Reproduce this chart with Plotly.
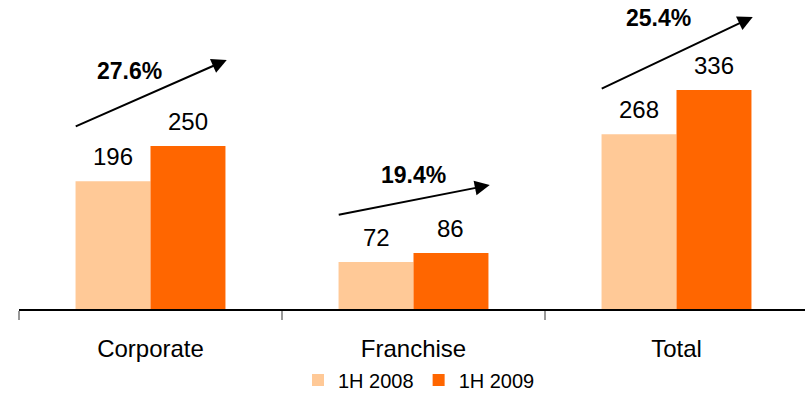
import plotly.graph_objects as go

# Revenue by segment, first half of the year
categories = ["Corporate", "Franchise", "Total"]
series_names = ["1H 2008", "1H 2009"]
values_2008 = [196, 72, 268]
values_2009 = [250, 86, 336]

colors = ["#FFC997", "#FF6600"]
FONT = "Arial, Liberation Sans, sans-serif"

# growth arrows: (tail y, tip y, label y) in value units, placed by hand
arrow_layout = [
    (279, 382, 365),
    (144, 190, 205),
    (337, 448, 446),
]
label_dx = [-0.08, 0.0, -0.07]
ARROW_HALF = 0.29

fig = go.Figure()
for name, vals, col in zip(series_names, [values_2008, values_2009], colors):
    fig.add_trace(go.Bar(
        x=categories, y=vals, name=name,
        marker=dict(color=col, line=dict(width=0)),
    ))

BAR_GAP = 0.43
half_w = (1 - BAR_GAP) / 4

annotations = []
# value labels above each bar
for i in range(len(categories)):
    for vals, sign in ((values_2008, -1), (values_2009, 1)):
        annotations.append(dict(
            x=i + sign * half_w, y=vals[i], xref="x", yref="y",
            text=str(vals[i]), showarrow=False, yanchor="bottom",
            yshift=9, font=dict(family=FONT, size=24, color="#000000"),
        ))

# growth arrows and percentages
for i, (tail, tip, ly) in enumerate(arrow_layout):
    growth = (values_2009[i] / values_2008[i] - 1) * 100
    annotations.append(dict(
        x=i + ARROW_HALF, y=tip, ax=i - ARROW_HALF, ay=tail,
        xref="x", yref="y", axref="x", ayref="y", text="",
        showarrow=True, arrowhead=2, arrowsize=1.5, arrowwidth=2,
        arrowcolor="#000000", standoff=0,
    ))
    annotations.append(dict(
        x=i + label_dx[i], y=ly, xref="x", yref="y",
        text=f"<b>{growth:.1f}%</b>", showarrow=False,
        font=dict(family=FONT, size=23, color="#000000"),
    ))

fig.update_layout(
    width=805, height=393,
    margin=dict(l=19, r=0, t=0, b=84, autoexpand=False),
    paper_bgcolor="white", plot_bgcolor="white",
    barmode="group", bargap=BAR_GAP, bargroupgap=0,
    showlegend=True,
    legend=dict(
        orientation="h", xref="container", yref="container",
        x=419 / 805, xanchor="center", y=13 / 393, yanchor="middle",
        font=dict(family=FONT, size=20, color="#000000"),
        itemwidth=30, traceorder="normal",
    ),
    annotations=annotations,
    xaxis=dict(
        type="category", categoryorder="array", categoryarray=categories,
        range=[-0.5, -0.5 + 786 / 263],
        showline=True, linecolor="#000000", linewidth=2,
        ticks="outside", tickson="boundaries", ticklen=9, tickwidth=2,
        tickcolor="#999999", showgrid=False, zeroline=False,
        tickfont=dict(family=FONT, size=24, color="#000000"),
        ticklabelstandoff=17,
    ),
    yaxis=dict(range=[0, 309 / 0.652], visible=False, showgrid=False, zeroline=False),
)

fig.write_html("out.html")
